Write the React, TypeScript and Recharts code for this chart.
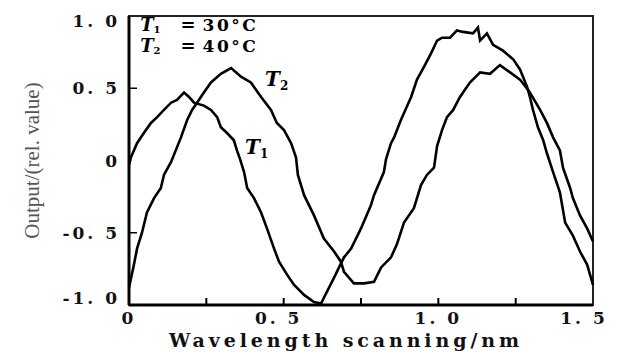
import { LineChart, Line, XAxis, YAxis, ReferenceArea, ReferenceDot } from 'recharts';

// wavelength scanning (nm) and output (rel. value)
const t1Wavelength = [
  0, 0.006, 0.026, 0.048, 0.071, 0.091, 0.113, 0.136, 0.155, 0.178, 0.194, 0.21, 0.242, 0.265, 0.285,
  0.297, 0.317, 0.339, 0.349, 0.359, 0.372, 0.382, 0.404, 0.427, 0.446, 0.469, 0.485, 0.511, 0.533, 0.566,
  0.598, 0.621, 0.63, 0.663, 0.679, 0.695, 0.718, 0.75, 0.782, 0.792, 0.824, 0.831, 0.847, 0.857, 0.879,
  0.912, 0.931, 0.954, 0.976, 0.996, 1.012, 1.038, 1.06, 1.08, 1.112, 1.128, 1.135, 1.157, 1.177, 1.209,
  1.242, 1.264, 1.287, 1.296, 1.306, 1.322, 1.339, 1.351, 1.371, 1.393, 1.41, 1.435, 1.458, 1.481, 1.5,
];
const t1Output = [
  -0.03, 0.02, 0.12, 0.19, 0.26, 0.3, 0.35, 0.4, 0.42, 0.47, 0.44, 0.4, 0.38, 0.35, 0.3,
  0.23, 0.19, 0.14, 0.07, 0.01, -0.08, -0.19, -0.26, -0.36, -0.47, -0.61, -0.7, -0.79, -0.86, -0.93,
  -0.98, -0.99, -0.95, -0.81, -0.74, -0.67, -0.61, -0.47, -0.31, -0.24, -0.08, 0.01, 0.12, 0.16, 0.28,
  0.44, 0.56, 0.65, 0.74, 0.83, 0.85, 0.85, 0.9, 0.89, 0.88, 0.92, 0.83, 0.88, 0.8, 0.76,
  0.7, 0.63, 0.51, 0.44, 0.35, 0.23, 0.14, 0.05, -0.08, -0.22, -0.43, -0.52, -0.63, -0.72, -0.86,
];
const t2Wavelength = [
  0, 0.016, 0.026, 0.042, 0.058, 0.081, 0.103, 0.113, 0.136, 0.168, 0.188, 0.204, 0.22, 0.242, 0.265,
  0.297, 0.33, 0.362, 0.394, 0.427, 0.459, 0.478, 0.501, 0.524, 0.54, 0.546, 0.566, 0.598, 0.63, 0.663,
  0.685, 0.695, 0.727, 0.76, 0.792, 0.815, 0.847, 0.866, 0.889, 0.921, 0.944, 0.963, 0.986, 0.996, 1.012,
  1.028, 1.048, 1.07, 1.102, 1.135, 1.167, 1.199, 1.232, 1.264, 1.296, 1.329, 1.351, 1.371, 1.393, 1.403,
  1.426, 1.435, 1.458, 1.481, 1.5,
];
const t2Output = [
  -0.88, -0.72, -0.61, -0.5, -0.36, -0.26, -0.19, -0.1, -0.01, 0.16, 0.28, 0.35, 0.4, 0.47, 0.54,
  0.6, 0.64, 0.58, 0.54, 0.44, 0.35, 0.26, 0.21, 0.12, 0.02, -0.1, -0.24, -0.38, -0.54, -0.63,
  -0.7, -0.77, -0.85, -0.85, -0.84, -0.74, -0.67, -0.58, -0.43, -0.33, -0.17, -0.1, -0.05, 0.1, 0.21,
  0.3, 0.35, 0.44, 0.54, 0.61, 0.6, 0.66, 0.61, 0.56, 0.47, 0.35, 0.26, 0.16, 0.07, -0.05,
  -0.19, -0.26, -0.38, -0.47, -0.56,
];

const xTicks = [0, 0.25, 0.5, 0.75, 1, 1.25, 1.5];
const yTicks = [-1, -0.5, 0, 0.5, 1];

const t1Data = t1Wavelength.map((x, i) => ({ x, y: t1Output[i] }));
const t2Data = t2Wavelength.map((x, i) => ({ x, y: t2Output[i] }));

const SERIF = '"DejaVu Serif", serif';

const fmt = (v: number) => (v === 0 ? '0' : v.toFixed(1).replace('.', '. '));

function XTick({ x, y, payload }: any) {
  const v = payload.value as number;
  const showLabel = Math.abs(v * 2 - Math.round(v * 2)) < 1e-6;
  const dx = v === 1.5 ? -9 : v === 0.5 ? -5 : 0;
  return (
    <g>
      {v > 0 && v < 1.5 && <line x1={x} x2={x} y1={y} y2={y - 7} stroke="#000" strokeWidth={2} />}
      {showLabel && (
        <text x={x + dx} y={y + 19} textAnchor="middle" fontFamily={SERIF} fontWeight="bold" fontSize={17} letterSpacing={3} fill="#111">
          {fmt(v)}
        </text>
      )}
    </g>
  );
}

function YTick({ x, y, payload }: any) {
  const v = payload.value as number;
  const dy = v === 1 ? 5 : v === -1 ? -7 : 0;
  return (
    <g>
      {Math.abs(v) === 0.5 && <line x1={x} x2={x + 8} y1={y} y2={y} stroke="#000" strokeWidth={1.5} />}
      <text x={x - 9} y={y + dy + 6} textAnchor="end" fontFamily={SERIF} fontWeight="bold" fontSize={17} letterSpacing={3} fill="#111">
        {fmt(v)}
      </text>
    </g>
  );
}

function TTag({ cx, cy, sub }: any) {
  return (
    <text x={cx} y={cy} fontFamily={SERIF} fontWeight="bold" fontSize={20} fill="#000">
      <tspan fontStyle="italic">T</tspan>
      <tspan fontSize={12} dy={4}>{sub}</tspan>
    </text>
  );
}

function LegendLine({ cx, cy, sub, temp }: any) {
  return (
    <text x={cx} y={cy} fontFamily={SERIF} fontWeight="bold" fontSize={17} fill="#000">
      <tspan fontStyle="italic" fontSize={18}>T</tspan>
      <tspan fontSize={10} dy={2}>{sub}</tspan>
      <tspan dx={20} dy={-2} fontSize={18}>=</tspan>
      <tspan dx={7} letterSpacing={2.5}>{temp}</tspan>
    </text>
  );
}

function YTitle({ viewBox }: any) {
  const cx = viewBox.x + 32;
  const cy = viewBox.y + viewBox.height / 2;
  return (
    <text x={cx} y={cy} transform={`rotate(-90 ${cx} ${cy})`} textAnchor="middle" dominantBaseline="central" fontFamily='"Liberation Serif", serif' fontSize={21} fill="#555">
      Output/(rel. value)
    </text>
  );
}

function XTitle({ viewBox }: any) {
  return (
    <text x={viewBox.x + viewBox.width / 2 - 15} y={viewBox.y + 42} textAnchor="middle" fontFamily={SERIF} fontWeight="bold" fontSize={19} letterSpacing={3.9} fill="#111">
      Wavelength scanning/nm
    </text>
  );
}

export default function App() {
  return (
    <div style={{ position: 'absolute', left: 0, top: 0, width: 617, height: 352, background: '#fff' }}>
      <LineChart width={617} height={352} margin={{ top: 16, right: 24, bottom: 0, left: 0 }}>
        <XAxis
          dataKey="x"
          type="number"
          domain={[0, 1.5]}
          ticks={xTicks}
          height={47}
          tickSize={0}
          tickMargin={0}
          tick={<XTick />}
          axisLine={{ stroke: '#000', strokeWidth: 3 }}
          allowDuplicatedCategory={false}
          label={<XTitle />}
        />
        <YAxis
          type="number"
          domain={[-1, 1]}
          ticks={yTicks}
          width={129}
          tickSize={0}
          tickMargin={0}
          tick={<YTick />}
          axisLine={{ stroke: '#000', strokeWidth: 3 }}
          label={<YTitle />}
        />
        <ReferenceArea x1={0} x2={1.5} y1={-1} y2={1} fill="none" stroke="#222" strokeWidth={2} />
        <Line data={t1Data} dataKey="y" type="linear" stroke="#000" strokeWidth={2.6} dot={false} isAnimationActive={false} />
        <Line data={t2Data} dataKey="y" type="linear" stroke="#000" strokeWidth={2.6} dot={false} isAnimationActive={false} />
        <ReferenceDot x={0.036} y={0.896} r={0} shape={(p: any) => <LegendLine {...p} sub="1" temp="30°C" />} />
        <ReferenceDot x={0.036} y={0.754} r={0} shape={(p: any) => <LegendLine {...p} sub="2" temp="40°C" />} />
        <ReferenceDot x={0.44} y={0.515} r={0} shape={(p: any) => <TTag {...p} sub="2" />} />
        <ReferenceDot x={0.375} y={0.045} r={0} shape={(p: any) => <TTag {...p} sub="1" />} />
      </LineChart>
    </div>
  );
}
